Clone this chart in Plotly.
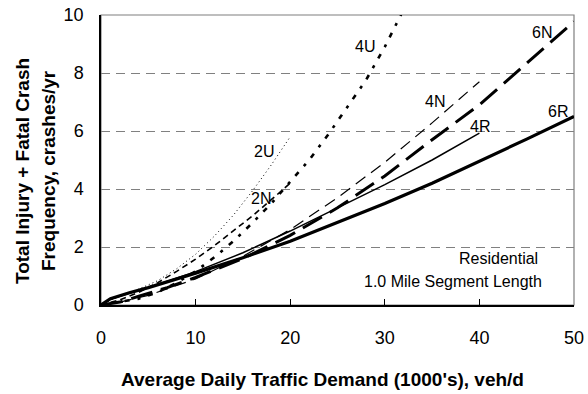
import plotly.graph_objects as go

# Average daily traffic demand (1000's veh/d) and crash frequency (crashes/yr) by cross section
x_2u = [0, 1, 2, 4, 6, 8, 10, 12, 14, 16, 18, 20]
y_2u = [0, 0.17, 0.3, 0.55, 0.84, 1.25, 1.75, 2.38, 3.1, 3.93, 4.83, 5.8]

x_2n = [0, 2, 4, 6, 8, 10, 12, 14, 16, 18, 20]
y_2n = [0, 0.18, 0.44, 0.77, 1.16, 1.58, 2.05, 2.55, 3.07, 3.63, 4.2]

x_4u = [0, 2, 4, 6, 8, 10, 12, 14, 16, 18, 20, 22, 24, 26, 28, 30, 32]
y_4u = [0, 0.1, 0.22, 0.44, 0.77, 1.16, 1.65, 2.2, 2.83, 3.5, 4.25, 5.0, 5.87, 6.8, 7.75, 8.9, 10.2]

x_4n = [0, 2, 5, 10, 15, 20, 25, 30, 35, 40]
y_4n = [0, 0.1, 0.33, 0.9, 1.68, 2.6, 3.7, 4.92, 6.28, 7.7]

x_4r = [0, 1, 3, 5, 10, 15, 20, 25, 30, 35, 40]
y_4r = [0, 0.2, 0.4, 0.6, 1.15, 1.8, 2.55, 3.35, 4.15, 5.0, 5.93]

x_6n = [0, 2, 4, 7, 10, 15, 20, 25, 30, 35, 40, 45, 50]
y_6n = [0, 0.1, 0.3, 0.6, 0.95, 1.6, 2.4, 3.35, 4.45, 5.7, 6.9, 8.33, 9.77]

x_6r = [0, 1, 3, 5, 10, 15, 20, 25, 30, 35, 40, 45, 50]
y_6r = [0, 0.22, 0.42, 0.6, 1.1, 1.63, 2.2, 2.85, 3.5, 4.2, 4.95, 5.72, 6.5]

x_ticks = [0, 10, 20, 30, 40, 50]
y_ticks = [0, 2, 4, 6, 8, 10]

# Curve label text and anchor positions (data units)
labels = ["2U", "2N", "4U", "4N", "4R", "6N", "6R"]
label_x = [17.2, 16.9, 27.9, 35.3, 40.1, 46.6, 48.3]
label_y = [5.28, 3.66, 8.9, 7.03, 6.17, 9.41, 6.66]

FONT = "Arial, Liberation Sans, sans-serif"

series = [
    (x_2u, y_2u, dict(color="black", width=1, dash="1px,3px")),
    (x_2n, y_2n, dict(color="black", width=1.6, dash="6px,4px")),
    (x_4u, y_4u, dict(color="black", width=2.6, dash="5px,8px,3px,8px")),
    (x_4n, y_4n, dict(color="black", width=1.2, dash="12px,7px")),
    (x_4r, y_4r, dict(color="black", width=1.5)),
    (x_6n, y_6n, dict(color="black", width=3, dash="22px,9px")),
    (x_6r, y_6r, dict(color="black", width=3.2)),
]

fig = go.Figure()
for xs, ys, ln in series:
    fig.add_trace(go.Scatter(x=xs, y=ys, mode="lines", line=ln, showlegend=False,
                             hoverinfo="skip"))

for t, lx, ly in zip(labels, label_x, label_y):
    fig.add_annotation(x=lx, y=ly, text=t, showarrow=False,
                       font=dict(family=FONT, size=16, color="black"),
                       xanchor="center", yanchor="middle")

fig.add_annotation(x=42.0, y=1.62, text="Residential", showarrow=False,
                   font=dict(family=FONT, size=16, color="black"),
                   xanchor="center", yanchor="middle")
fig.add_annotation(x=37.2, y=0.81, text="1.0 Mile Segment Length", showarrow=False,
                   font=dict(family=FONT, size=16, color="black"),
                   xanchor="center", yanchor="middle")

# Axis titles
fig.add_annotation(x=0.5 - 0.0317, y=-0.2586, xref="paper", yref="paper",
                   text="<b>Average Daily Traffic Demand (1000's), veh/d</b>", showarrow=False,
                   font=dict(family=FONT, size=19, color="black"),
                   xanchor="center", yanchor="middle")
fig.add_annotation(x=-0.167, y=0.462, xref="paper", yref="paper",
                   text="<b>Total Injury + Fatal Crash</b>", textangle=-90, showarrow=False,
                   font=dict(family=FONT, size=19, color="black"),
                   xanchor="center", yanchor="middle")
fig.add_annotation(x=-0.112, y=0.462, xref="paper", yref="paper",
                   text="<b>Frequency, crashes/yr</b>", textangle=-90, showarrow=False,
                   font=dict(family=FONT, size=19, color="black"),
                   xanchor="center", yanchor="middle")

# Plot-area frame (top and right edges in grey)
fig.add_shape(type="rect", xref="paper", yref="paper", x0=0, y0=0, x1=1, y1=1,
              line=dict(color="#7f7f7f", width=1.2), layer="below")

fig.update_layout(
    width=588, height=394,
    margin=dict(l=101, r=14, t=15, b=89, autoexpand=False),
    paper_bgcolor="white", plot_bgcolor="white",
    font=dict(family=FONT, color="black"),
)
fig.update_xaxes(range=[0, 50], tickvals=x_ticks, ticks="inside", ticklen=6,
                 tickcolor="black", tickwidth=1, showline=True, linecolor="black",
                 linewidth=1.5, showgrid=False, zeroline=False, automargin=False,
                 tickfont=dict(family=FONT, size=18, color="black"),
                 ticklabelstandoff=16)
fig.update_yaxes(range=[0, 10], tickvals=y_ticks, ticks="", showline=True,
                 linecolor="black", linewidth=1.5, showgrid=True,
                 gridcolor="#808080", gridwidth=1, griddash="9px,6px",
                 zeroline=False, automargin=False,
                 tickfont=dict(family=FONT, size=18, color="black"),
                 ticklabelstandoff=12)

fig.write_html("out.html")
